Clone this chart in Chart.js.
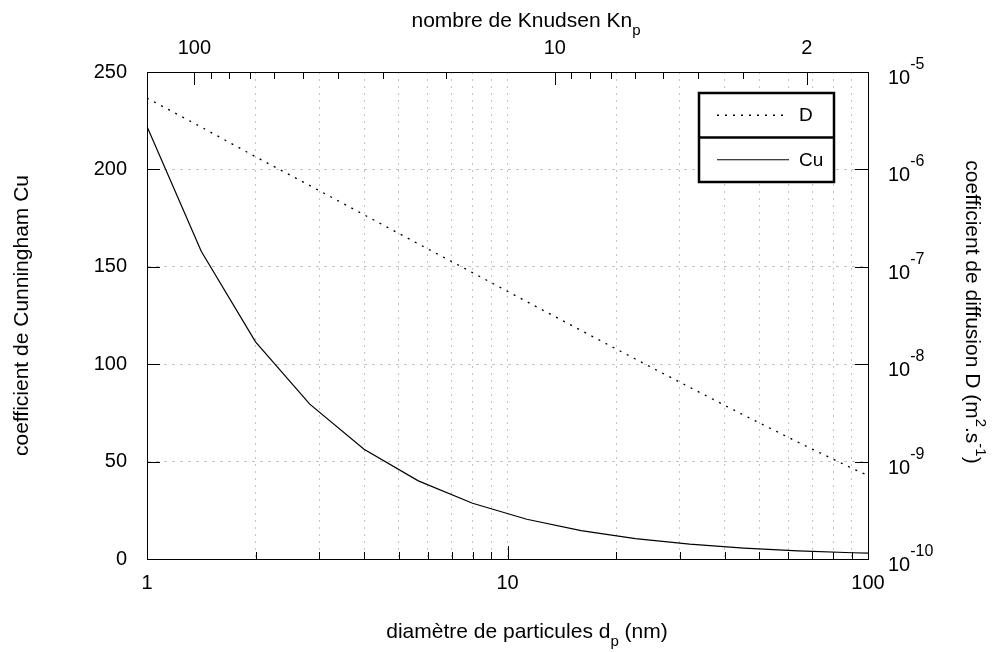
<!DOCTYPE html>
<html>
<head>
<meta charset="utf-8">
<script src="https://cdn.jsdelivr.net/npm/chart.js@4.4.1/dist/chart.umd.min.js"></script>
<style>
  body { margin: 0; background: #fff; }
  canvas { display: block; }
</style>
</head>
<body>
<canvas id="chart" width="996" height="652"></canvas>
<script>
// Cunningham correction and diffusion coefficient vs particle diameter
const DIAMETERS = [1, 1.414, 2, 2.828, 4, 5.657, 8, 11.31, 16, 22.63, 32, 45.25, 64, 90.51, 100];
const CU_VALUES = [222, 158, 111.5, 79.5, 56.3, 40.1, 28.6, 20.4, 14.6, 10.5, 7.6, 5.6, 4.2, 3.2, 3.0];
const D_VALUES = [5.4e-6, 2.72e-6, 1.35e-6, 6.83e-7, 3.42e-7, 1.72e-7, 8.7e-8, 4.39e-8, 2.22e-8, 1.13e-8, 5.8e-9, 3.0e-9, 1.58e-9, 8.5e-10, 7.2e-10];

const X_TICKS = [1, 2, 3, 4, 5, 6, 7, 8, 9, 10, 20, 30, 40, 50, 60, 70, 80, 90, 100];
const X_LABELS = [1, 10, 100];
const KN_TICKS = [100, 90, 80, 70, 60, 50, 40, 30, 20, 10, 9, 8, 7, 6, 5, 4, 3, 2];
const KN_LABELS = [100, 10, 2];
const KN_RANGE = [1.353, 135.3]; // Kn at d = 100 nm and at d = 1 nm
const CU_TICKS = [0, 50, 100, 150, 200, 250];
const D_TICKS = [1e-10, 1e-9, 1e-8, 1e-7, 1e-6, 1e-5];

const FONT = "'Liberation Sans', Arial, Helvetica, sans-serif";
Chart.defaults.font.family = FONT;
Chart.defaults.color = '#000';

const GRID_COLOR = '#c4c4c4';

// text with sub/superscripts, centred on x, y is the baseline
function richText(ctx, parts, x, y, rot) {
    const size = { n: 21, sub: 15, sup: 15 };
    const shift = { n: 0, sub: 8, sup: -10 };
    let w = 0;
    parts.forEach(([t, k]) => {
        ctx.font = size[k] + 'px ' + FONT;
        w += ctx.measureText(t).width;
    });
    ctx.save();
    ctx.translate(x, y);
    ctx.rotate(rot || 0);
    ctx.fillStyle = '#000';
    ctx.textAlign = 'left';
    ctx.textBaseline = 'alphabetic';
    let cx = -w / 2;
    parts.forEach(([t, k]) => {
        ctx.font = size[k] + 'px ' + FONT;
        ctx.fillText(t, cx, shift[k]);
        cx += ctx.measureText(t).width;
    });
    ctx.restore();
}

const decorations = {
    id: 'decorations',
    afterDraw(chart) {
        const { ctx, chartArea: a, scales } = chart;
        ctx.save();
        ctx.strokeStyle = '#000';
        ctx.lineWidth = 1;
        ctx.beginPath();
        // inward ticks
        scales.x.ticks.forEach(t => {
            const px = Math.round(scales.x.getPixelForValue(t.value)) + 0.5;
            const len = X_LABELS.includes(t.value) ? 13 : 7;
            ctx.moveTo(px, a.bottom);
            ctx.lineTo(px, a.bottom - len);
        });
        scales.kn.ticks.forEach(t => {
            const px = Math.round(scales.kn.getPixelForValue(t.value)) + 0.5;
            const len = KN_LABELS.includes(t.value) ? 13 : 7;
            ctx.moveTo(px, a.top);
            ctx.lineTo(px, a.top + len);
        });
        scales.y.ticks.forEach(t => {
            const py = Math.round(scales.y.getPixelForValue(t.value)) + 0.5;
            ctx.moveTo(a.left, py);
            ctx.lineTo(a.left + 13, py);
        });
        scales.y2.ticks.forEach(t => {
            const py = Math.round(scales.y2.getPixelForValue(t.value)) + 0.5;
            ctx.moveTo(a.right, py);
            ctx.lineTo(a.right - 13, py);
        });
        ctx.stroke();

        // right axis labels 10^n
        ctx.fillStyle = '#000';
        ctx.textAlign = 'left';
        ctx.textBaseline = 'alphabetic';
        scales.y2.ticks.forEach(t => {
            const py = scales.y2.getPixelForValue(t.value);
            const exp = String(Math.round(Math.log10(t.value)));
            ctx.font = '20px ' + FONT;
            ctx.fillText('10', a.right + 20, py + 12);
            const w = ctx.measureText('10').width;
            ctx.font = '16px ' + FONT;
            ctx.fillText(exp, a.right + 20 + w, py - 3);
        });

        // axis titles with sub/superscripts
        richText(ctx, [['nombre de Knudsen Kn', 'n'], ['p', 'sub']], 526, 27);
        richText(ctx, [['diamètre de particules d', 'n'], ['p', 'sub'], [' (nm)', 'n']], 527, 638);
        richText(ctx, [['coefficient de diffusion D (m', 'n'], ['2', 'sup'], ['.s', 'n'], ['-1', 'sup'], [')', 'n']],
            966, 312, Math.PI / 2);

        // key box
        const x0 = a.right - 169, x1 = a.right - 34, y0 = a.top + 21, y1 = a.top + 110;
        const rowH = (y1 - y0) / chart.data.datasets.length;
        ctx.fillStyle = '#fff';
        ctx.fillRect(x0, y0, x1 - x0, y1 - y0);
        ctx.lineWidth = 2.5;
        ctx.strokeRect(x0, y0, x1 - x0, y1 - y0);
        chart.data.datasets.forEach((ds, i) => {
            const cy = y0 + rowH * (i + 0.5);
            if (i > 0) {
                ctx.lineWidth = 2.5;
                ctx.beginPath();
                ctx.moveTo(x0, y0 + rowH * i);
                ctx.lineTo(x1, y0 + rowH * i);
                ctx.stroke();
            }
            ctx.save();
            ctx.lineWidth = ds.borderWidth;
            ctx.strokeStyle = ds.borderColor;
            ctx.setLineDash(ds.borderDash || []);
            ctx.beginPath();
            ctx.moveTo(x0 + 18, cy);
            ctx.lineTo(x0 + 90, cy);
            ctx.stroke();
            ctx.restore();
            ctx.fillStyle = '#000';
            ctx.font = '19px ' + FONT;
            ctx.textBaseline = 'middle';
            ctx.fillText(ds.label, x0 + 100, cy + 1);
        });
        ctx.restore();
    }
};

new Chart(document.getElementById('chart'), {
    type: 'line',
    data: {
        datasets: [
            {
                label: 'D',
                data: DIAMETERS.map((d, i) => ({ x: d, y: D_VALUES[i] })),
                yAxisID: 'y2',
                borderColor: '#000',
                borderWidth: 1.3,
                borderDash: [2, 6],
                pointRadius: 0,
                tension: 0
            },
            {
                label: 'Cu',
                data: DIAMETERS.map((d, i) => ({ x: d, y: CU_VALUES[i] })),
                yAxisID: 'y',
                borderColor: '#000',
                borderWidth: 1.2,
                pointRadius: 0,
                tension: 0
            }
        ]
    },
    options: {
        responsive: false,
        animation: false,
        devicePixelRatio: 1,
        layout: { padding: 0 },
        plugins: { legend: { display: false }, tooltip: { enabled: false } },
        scales: {
            x: {
                type: 'logarithmic', position: 'bottom', min: 1, max: 100,
                afterBuildTicks: s => { s.ticks = X_TICKS.map(v => ({ value: v })); },
                afterFit: s => { s.height = 93; },
                ticks: {
                    autoSkip: false, maxRotation: 0, padding: 12, font: { size: 20 },
                    callback: v => X_LABELS.includes(v) ? String(v) : ''
                },
                grid: { color: GRID_COLOR, lineWidth: 1, drawTicks: false },
                border: { display: true, color: '#000', width: 1, dash: [2, 5] }
            },
            kn: {
                type: 'logarithmic', position: 'top', reverse: true,
                min: KN_RANGE[0], max: KN_RANGE[1],
                afterBuildTicks: s => { s.ticks = KN_TICKS.map(v => ({ value: v })); },
                afterFit: s => { s.height = 72; },
                ticks: {
                    autoSkip: false, maxRotation: 0, padding: 12, font: { size: 20 },
                    callback: v => KN_LABELS.includes(v) ? String(v) : ''
                },
                grid: { display: false, drawTicks: false },
                border: { display: true, color: '#000', width: 1 }
            },
            y: {
                type: 'linear', position: 'left', min: 0, max: 250,
                afterBuildTicks: s => { s.ticks = CU_TICKS.map(v => ({ value: v })); },
                afterFit: s => { s.width = 147; },
                ticks: { padding: 20, font: { size: 20 } },
                title: {
                    display: true, text: 'coefficient de Cunningham Cu',
                    font: { size: 21 }, padding: { top: 10, bottom: 0 }
                },
                grid: { color: GRID_COLOR, lineWidth: 1, drawTicks: false },
                border: { display: true, color: '#000', width: 1, dash: [3, 5] }
            },
            y2: {
                type: 'logarithmic', position: 'right', min: 1e-10, max: 1e-5,
                afterBuildTicks: s => { s.ticks = D_TICKS.map(v => ({ value: v })); },
                afterFit: s => { s.width = 128; },
                ticks: { display: false },
                grid: { display: false, drawTicks: false },
                border: { display: true, color: '#000', width: 1 }
            }
        }
    },
    plugins: [decorations]
});
</script>
</body>
</html>
